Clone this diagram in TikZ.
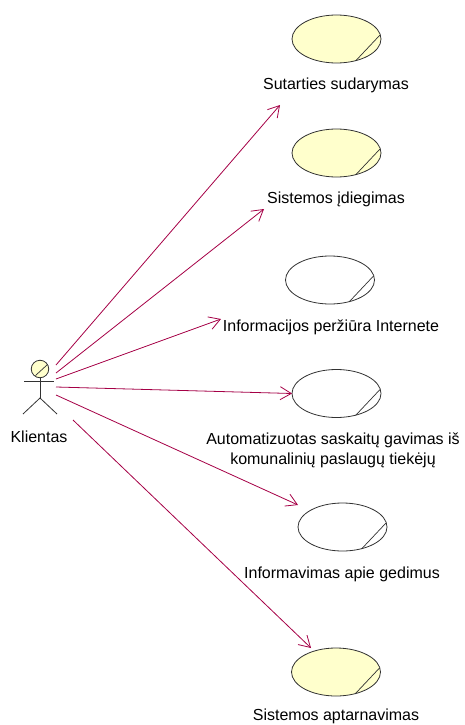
\documentclass[tikz,border=0pt]{standalone}
\usepackage{fontspec}
\setmainfont{Liberation Sans}
\usetikzlibrary{arrows.meta,shapes.geometric}
\definecolor{uc}{RGB}{255,255,204}
\definecolor{ln}{RGB}{50,50,50}
\definecolor{assoc}{RGB}{165,0,70}
\tikzset{
 usecase/.style={draw=ln,line width=0.8pt,ellipse,minimum width=89pt,minimum height=48pt,inner sep=0pt,outer sep=0pt},
 filled/.style={fill=uc},
 lab/.style={text=black,font=\fontsize{16}{20}\selectfont,align=center,inner sep=0pt},
 chord/.style={draw=ln,line width=0.7pt},
 assocline/.style={draw=assoc,line width=0.8pt,-{Straight Barb[length=11pt,width=13pt,line width=0.8pt]}},
 stick/.style={draw=ln,line width=0.8pt}
}
\begin{document}
\begin{tikzpicture}[x=1pt,y=-1pt]
\useasboundingbox (0,0) rectangle (465,725);
\node[usecase,filled] (u1) at (336.5,39) {};
\node[usecase,filled] (u2) at (336.5,153) {};
\node[usecase] (u3) at (330,280) {};
\node[usecase] (u4) at (336.5,393.5) {};
\node[usecase] (u5) at (342.5,527) {};
\node[usecase,filled] (u6) at (336,672) {};
\foreach \n in {u1,u2,u3,u4,u5,u6}{
 \draw[chord] (\n.center) ++(43.5,-4) -- ++(-24.5,26);
}
\node[lab] (l1) at (336,85) {Sutarties sudarymas};
\node[lab] (l2) at (336,199) {Sistemos įdiegimas};
\node[lab] (l3) at (331,327) {Informacijos peržiūra Internete};
\node[lab] (l4) at (333,450.5) {Automatizuotas saskaitų gavimas iš\\komunalinių paslaugų tiekėjų};
\node[lab] (l5) at (342,574) {Informavimas apie gedimus};
\node[lab] (l6) at (336,716.5) {Sistemos aptarnavimas};
\node[lab] (al) at (39,437) {Klientas};
% actor
\node[circle,draw=ln,fill=uc,line width=0.8pt,minimum size=17.5pt,inner sep=0pt,outer sep=0pt] (head) at (40,369) {};
\draw[chord] (head.center) ++(7.5,-4.5) -- ++(-12,11);
\coordinate (hip) at (40,398);
\coordinate (armL) at (24,381);
\coordinate (armR) at (54,381);
\coordinate (legL) at (23,414);
\coordinate (legR) at (57,414);
\draw[stick] (head.south) -- (hip);
\draw[stick] (armL) -- (armR);
\draw[stick] (legL) -- (hip) -- (legR);
% connector ends
\coordinate (s1) at (56,365);
\coordinate (s2) at (56,373);
\coordinate (s3) at (56,379);
\coordinate (s4) at (56,387);
\coordinate (s5) at (56,395);
\coordinate (s6) at (73,420);
\coordinate (e1) at (280,105);
\coordinate (e2) at (264,209);
\coordinate (e3) at (221,319);
\coordinate (e5) at (298,505);
\coordinate (e6) at (311,648);
\draw[assocline] (s1) -- (e1);
\draw[assocline] (s2) -- (e2);
\draw[assocline] (s3) -- (e3);
\draw[assocline] (s4) -- (u4.west);
\draw[assocline] (s5) -- (e5);
\draw[assocline] (s6) -- (e6);
\end{tikzpicture}
\end{document}
